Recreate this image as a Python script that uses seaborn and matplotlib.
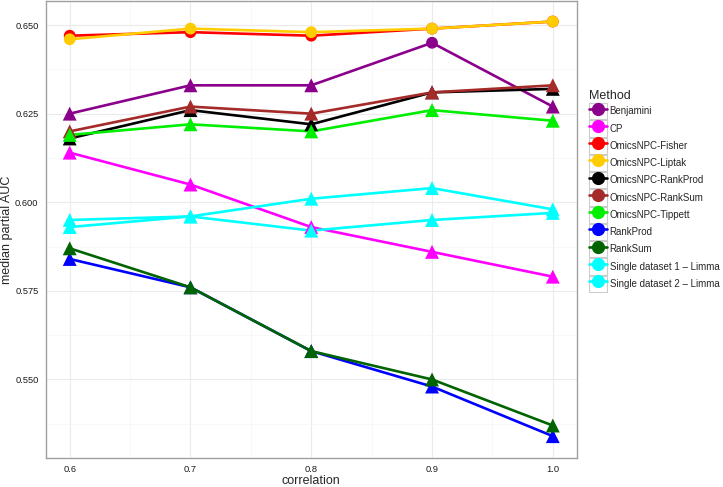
import matplotlib
matplotlib.use('Agg')
import matplotlib.pyplot as plt
import pandas as pd
import seaborn as sns
from matplotlib.lines import Line2D
from matplotlib.patches import Rectangle
from matplotlib.legend_handler import HandlerTuple
from matplotlib.ticker import MultipleLocator, FormatStrFormatter

correlation = [0.6, 0.7, 0.8, 0.9, 1.0]

methods = ['Benjamini', 'CP', 'OmicsNPC-Fisher', 'OmicsNPC-Liptak',
           'OmicsNPC-RankProd', 'OmicsNPC-RankSum', 'OmicsNPC-Tippett',
           'RankProd', 'RankSum',
           'Single dataset 1 \u2013 Limma', 'Single dataset 2 \u2013 Limma']

benjamini = [0.625, 0.633, 0.633, 0.645, 0.627]
cp = [0.614, 0.605, 0.593, 0.586, 0.579]
npc_fisher = [0.647, 0.648, 0.647, 0.649, 0.651]
npc_liptak = [0.646, 0.649, 0.648, 0.649, 0.651]
npc_rankprod = [0.618, 0.626, 0.622, 0.631, 0.632]
npc_ranksum = [0.620, 0.627, 0.625, 0.631, 0.633]
npc_tippett = [0.619, 0.622, 0.620, 0.626, 0.623]
rankprod = [0.584, 0.576, 0.558, 0.548, 0.534]
ranksum = [0.587, 0.576, 0.558, 0.550, 0.537]
single1 = [0.593, 0.596, 0.601, 0.604, 0.598]
single2 = [0.595, 0.596, 0.592, 0.595, 0.597]

# which points are drawn as circles (the rest are triangles)
best = {
    'Benjamini': [False, False, False, True, False],
    'OmicsNPC-Fisher': [True] * 5,
    'OmicsNPC-Liptak': [True] * 5,
}

colors = ['#8B008B', '#FF00FF', '#FF0000', '#FFCC00', '#000000', '#A52A2A',
          '#00EE00', '#0000FF', '#006400', '#00FFFF', '#00FFFF']

values = [benjamini, cp, npc_fisher, npc_liptak, npc_rankprod, npc_ranksum,
          npc_tippett, rankprod, ranksum, single1, single2]

rows = []
for m, vals in zip(methods, values):
    flags = best.get(m, [False] * 5)
    for c, v, f in zip(correlation, vals, flags):
        rows.append({'Method': m, 'correlation': c, 'auc': v,
                     'shape': 'circle' if f else 'triangle'})
df = pd.DataFrame(rows)

sns.set_style('white')
plt.rcParams['font.family'] = ['Liberation Sans', 'DejaVu Sans']

fig = plt.figure(figsize=(7.23, 4.87), dpi=100)
ax = fig.add_axes([0.063, 0.06, 0.735, 0.938])

palette = dict(zip(methods, colors))

sns.lineplot(data=df, x='correlation', y='auc', hue='Method', hue_order=methods,
             palette=palette, linewidth=1.9, legend=False, ax=ax, zorder=2)

# triangles are a bit bigger than circles, as in ggplot
sns.scatterplot(data=df[df['shape'] == 'triangle'], x='correlation', y='auc',
                hue='Method', hue_order=methods, palette=palette, marker='^',
                s=100, linewidth=0, legend=False, ax=ax, zorder=3)
sns.scatterplot(data=df[df['shape'] == 'circle'], x='correlation', y='auc',
                hue='Method', hue_order=methods, palette=palette, marker='o',
                s=72, linewidth=0, legend=False, ax=ax, zorder=3)

ax.set_xlim(0.58, 1.02)
ax.set_ylim(0.5279, 0.6568)
ax.xaxis.set_minor_locator(MultipleLocator(0.05))
ax.yaxis.set_major_locator(MultipleLocator(0.025))
ax.yaxis.set_minor_locator(MultipleLocator(0.0125))
ax.set_xticks(correlation)
ax.set_xticklabels(['0.6', '0.7', '0.8', '0.9', '1.0'])
ax.yaxis.set_major_formatter(FormatStrFormatter('%.3f'))

ax.grid(True, which='major', color='#EBEBEB', linewidth=0.8)
ax.grid(True, which='minor', color='#F5F5F5', linewidth=0.5)
ax.set_axisbelow(True)
for s in ax.spines.values():
    s.set_color('#A0A0A0')
    s.set_linewidth(1.0)
ax.tick_params(axis='both', which='major', length=3, color='#A0A0A0',
               labelsize=6.7, labelcolor='#1A1A1A', pad=2)
ax.tick_params(axis='both', which='minor', length=0)

ax.set_xlabel('correlation', fontsize=9, labelpad=1)
ax.set_ylabel('median partial AUC', fontsize=9, labelpad=1.5)

# legend keys: grey-bordered box with the line and a circle on top
handles = []
for c in colors:
    box = Rectangle((0, 0), 1, 1, facecolor='white', edgecolor='#CCCCCC', linewidth=0.8)
    ln = Line2D([], [], color=c, linewidth=1.9, marker='o', markersize=8.5)
    handles.append((box, ln))

leg = fig.legend(handles, methods, loc='upper left', bbox_to_anchor=(0.815, 0.815),
                 frameon=False, title='Method', fontsize=7, title_fontsize=9,
                 handler_map={tuple: HandlerTuple(ndivide=1, pad=0)},
                 handlelength=1.8, handleheight=2.2, labelspacing=0.1,
                 handletextpad=0.3, borderaxespad=0, borderpad=0)
leg._legend_box.align = 'left'

fig.savefig('out.png', dpi=100)
